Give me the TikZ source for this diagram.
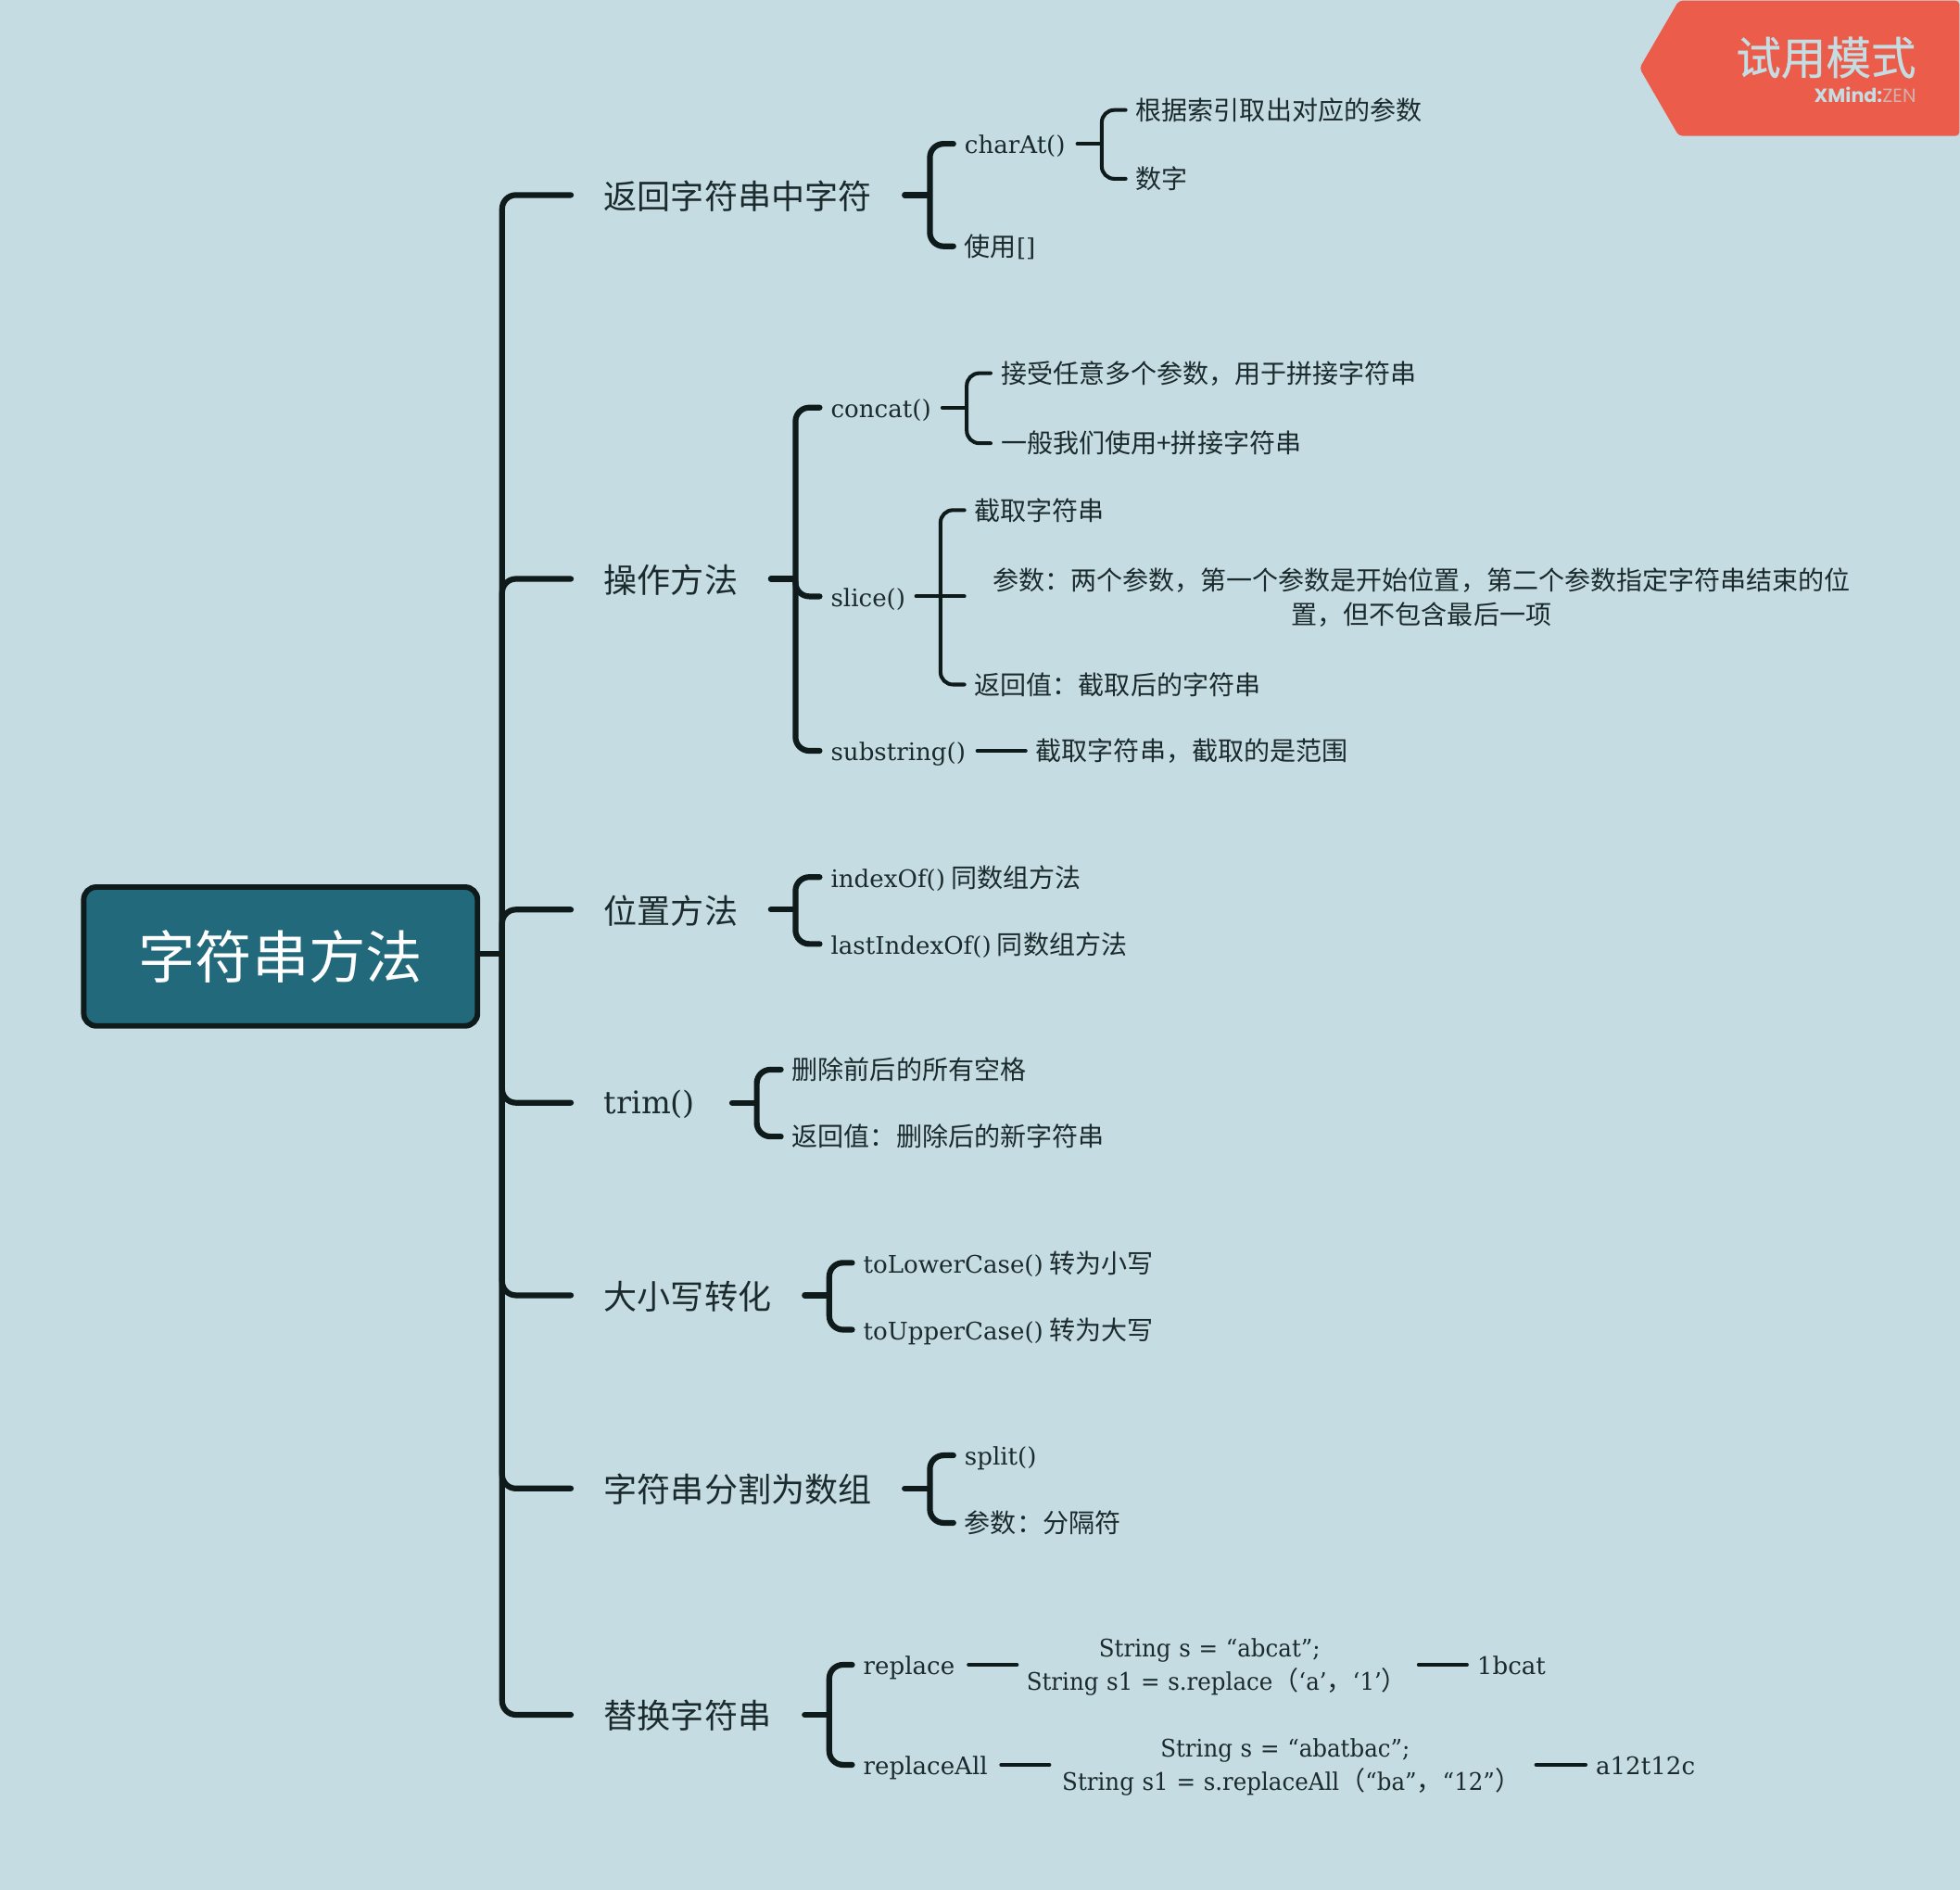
\documentclass[tikz,border=0pt]{standalone}
\usepackage{fontspec}
\usetikzlibrary{calc}
\setmainfont{DejaVu Serif}[Scale=0.93,WordSpace=0.75]
\newfontfamily\serifn{DejaVu Serif}[Scale=0.93,WordSpace=0.75,FakeStretch=0.94]
\newfontfamily\cjk{Noto Sans CJK SC}
\newfontfamily\cjkm{Noto Sans CJK SC}[FakeBold=0.6]
\newfontfamily\badgelatin{Poppins}
\newcommand{\C}[1]{{\cjk #1}}
\newcommand{\fcm}{^^^^ff0c}
\newcommand{\fcl}{^^^^ff1a}
\newcommand{\flp}{^^^^ff08}
\newcommand{\frp}{^^^^ff09}
\definecolor{bgc}{HTML}{C5DDE2}
\definecolor{linec}{HTML}{0F1A1B}
\definecolor{textc}{HTML}{1B2A2C}
\definecolor{rootc}{HTML}{23697C}
\definecolor{badgec}{HTML}{EB5C4A}
\tikzset{
  x=1pt,y=-1pt,
  rootbox/.style={draw=linec,fill=rootc,line width=4.4pt,rounded corners=10pt,text=white,
    minimum width=315pt,minimum height=111pt,inner sep=0pt,font=\fontsize{45.5}{50}\selectfont},
  branch/.style={anchor=west,inner xsep=24pt,inner ysep=0pt,text=textc,align=left,text width=#1,
    text height=25pt,text depth=3pt,font=\fontsize{26.75}{32}\selectfont},
  item/.style={anchor=west,inner xsep=6.5pt,inner ysep=0pt,text=textc,align=left,
    text height=18.5pt,text depth=2.5pt,font=\fontsize{20.8}{27}\selectfont},
  itemw/.style={item,text width=#1},
  block/.style={anchor=west,inner ysep=0pt,text=textc,align=center,text width=#1,
    font=\fontsize{20.8}{27}\selectfont},
  heavy/.style={draw=linec,line width=4.6pt,line cap=round,rounded corners=11pt,shorten >=2.3pt,shorten <=2.3pt},
  thin/.style={draw=linec,line width=3pt,line cap=round,rounded corners=10pt,shorten >=1.5pt,shorten <=1.5pt},
}
\begin{document}
\begin{tikzpicture}
\useasboundingbox (0,0) rectangle (1568,1511.6);
\fill[bgc] (0,0) rectangle (1568,1511.6);

% trial badge
\fill[badgec,rounded corners=3pt] (1311.6,54.5) -- (1343,0.5) -- (1567.5,0.5) -- (1567.5,108.7) -- (1343,108.7) -- cycle;
\node[anchor=east,inner sep=0pt,text=bgc,font=\fontsize{36}{40}\selectfont] (badgea) at (1533,46) {{\cjkm 试用模式}};
\node[anchor=east,inner sep=0pt,text=bgc,font=\fontsize{15.3}{16}\selectfont] (badgeb) at (1533,76) {\badgelatin\textbf{XMind:}\textcolor{bgc!65!badgec}{ZEN}};

% root
\node[rootbox] (root) at (224.5,765) {\raisebox{3.5pt}{\C{字符串方法}}};

% first level
\node[branch=214pt] (b1) at (459,156) {\C{返回字符串中字符}};
\node[branch=107pt] (b2) at (459,463) {\C{操作方法}};
\node[branch=107pt] (b3) at (459,727.5) {\C{位置方法}};
\node[branch=76pt,text height=22.5pt,text depth=5.5pt] (b4) at (459,882) {trim()};
\node[branch=134pt] (b5) at (459,1036) {\C{大小写转化}};
\node[branch=214pt] (b6) at (459,1190.5) {\C{字符串分割为数组}};
\node[branch=134pt] (b7) at (459,1371.5) {\C{替换字符串}};

% second level: b1
\node[itemw=82pt] (c1) at (765,115) {charAt()};
\node[item] (c2) at (765,197) {\C{使用}[]};
\node[item] (c1a) at (902,88) {\C{根据索引取出对应的参数}};
\node[item] (c1b) at (902,143) {\C{数字}};

% b2
\node[itemw=81pt] (d1) at (658,326) {concat()};
\node[itemw=60pt] (d2) at (658,477) {slice()};
\node[itemw=109pt] (d3) at (658,600.5) {substring()};
\node[item] (d1a) at (794,298.5) {\C{接受任意多个参数\fcm 用于拼接字符串}};
\node[item] (d1b) at (794,354.5) {\C{一般我们使用+拼接字符串}};
\node[item] (d2a) at (773,408) {\C{截取字符串}};
\node[block=690pt,inner xsep=19pt,yshift=-1pt] (d2b) at (773,477) {\C{参数\fcl 两个参数\fcm 第一个参数是开始位置\fcm 第二个参数指定字符串结束的位}\\\C{置\fcm 但不包含最后一项}};
\node[item] (d2c) at (773,547.5) {\C{返回值\fcl 截取后的字符串}};
\node[item] (d3a) at (822,600.5) {\C{截取字符串\fcm 截取的是范围}};

% b3
\node[item] (e1) at (658,701.5) {indexOf() \C{同数组方法}};
\node[item] (e2) at (658,755) {lastIndexOf() \C{同数组方法}};

% b4
\node[item] (f1) at (627,855.5) {\C{删除前后的所有空格}};
\node[item] (f2) at (627,909) {\C{返回值\fcl 删除后的新字符串}};

% b5
\node[item] (g1) at (684,1010) {toLowerCase() \C{转为小写}};
\node[item] (g2) at (684,1063.5) {toUpperCase() \C{转为大写}};

% b6
\node[item] (h1) at (765,1164) {split()};
\node[item] (h2) at (765,1218) {\C{参数\fcl 分隔符}};

% b7
\node[itemw=76pt] (k1) at (684,1331.5) {replace};
\node[itemw=102pt] (k2) at (684,1411.5) {replaceAll};
\node[block=291pt,inner xsep=7pt,yshift=-2pt] (k1a) at (815,1331.5) {\serifn String s = “abcat”;\\\makebox[291pt]{\hspace{12pt}\serifn String s1 = s.replace\C{\flp}‘a’\C{\fcm}‘1’\C{\frp}}};
\coordinate (k1e) at ($(k1a.east)+(13,-2)$);
\node[item] (k1b) at (1175,1331.5) {1bcat};
\node[block=360pt,inner xsep=7pt,yshift=-2pt] (k2a) at (841,1411.5) {\serifn String s = “abatbac”;\\\makebox[360pt]{\hspace{10pt}\serifn String s1 = s.replaceAll\C{\flp}“ba”\C{\fcm}“12”\C{\frp}}};
\coordinate (k2e) at ($(k2a.east)+(12,-2)$);
\node[item] (k2b) at (1270,1411.5) {a12t12c};

% connectors: root
\coordinate (rs) at ($(root.east)+(0,-2)$);
\coordinate (jr) at ($(rs)+(17.5,0)$);
\draw[heavy,rounded corners=0pt,line cap=butt,shorten >=0pt,shorten <=0pt] (rs) -- (jr);
\draw[heavy] (b1.west) -| (jr) |- (b7.west);
\draw[heavy] (jr) |- (b2.west);
\draw[heavy] (jr) |- (b3.west);
\draw[heavy] (jr) |- (b4.west);
\draw[heavy] (jr) |- (b5.west);
\draw[heavy] (jr) |- (b6.west);

% b1
\coordinate (j1) at ($(b1.east)+(22.5,0)$);
\draw[heavy] (b1.east) -- (j1);
\draw[heavy] (c1.west) -| (j1) |- (c2.west);
\coordinate (j1c) at ($(c1.east)+(21,0)$);
\draw[thin] (c1.east) -- (j1c);
\draw[thin] (c1a.west) -| (j1c) |- (c1b.west);

% b2
\coordinate (j2) at ($(b2.east)+(22,0)$);
\draw[heavy] (b2.east) -- (j2);
\draw[heavy] (d1.west) -| (j2) |- (d3.west);
\draw[heavy] (j2) |- (d2.west);
\coordinate (j2a) at ($(d1.east)+(21,0)$);
\draw[thin] (d1.east) -- (j2a);
\draw[thin] (d1a.west) -| (j2a) |- (d1b.west);
\coordinate (j2b) at ($(d2.east)+(21,0)$);
\draw[thin] (d2.east) -- (j2b);
\draw[thin] (d2a.west) -| (j2b) |- (d2c.west);
\draw[thin] (j2b) -- (d2.east -| d2b.west);
\draw[thin] (d3.east) -- (d3a.west);

% b3
\coordinate (j3) at ($(b3.east)+(22,0)$);
\draw[heavy] (b3.east) -- (j3);
\draw[heavy] (e1.west) -| (j3) |- (e2.west);

% b4
\coordinate (j4) at ($(b4.east)+(22,0)$);
\draw[heavy] (b4.east) -- (j4);
\draw[heavy] (f1.west) -| (j4) |- (f2.west);

% b5
\coordinate (j5) at ($(b5.east)+(22,0)$);
\draw[heavy] (b5.east) -- (j5);
\draw[heavy] (g1.west) -| (j5) |- (g2.west);

% b6
\coordinate (j6) at ($(b6.east)+(22.5,0)$);
\draw[heavy] (b6.east) -- (j6);
\draw[heavy] (h1.west) -| (j6) |- (h2.west);

% b7
\coordinate (j7) at ($(b7.east)+(22,0)$);
\draw[heavy] (b7.east) -- (j7);
\draw[heavy] (k1.west) -| (j7) |- (k2.west);
\draw[thin] (k1.east) -- (k1.east -| k1a.west);
\draw[thin] (k1e) -- (k1b.west);
\draw[thin] (k2.east) -- (k2.east -| k2a.west);
\draw[thin] (k2e) -- (k2b.west);
\end{tikzpicture}
\end{document}
